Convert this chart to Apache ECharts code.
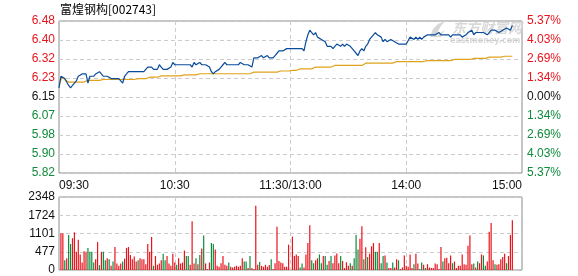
<!DOCTYPE html>
<html><head><meta charset="utf-8">
<script src="https://cdn.jsdelivr.net/npm/echarts@6/dist/echarts.min.js"></script>
<style>html,body{margin:0;padding:0;background:#fff}#c{width:578px;height:276px}</style>
</head><body><div id="c"></div>
<script>
const title = '富煌钢构[002743]';
const priceMin = 5.82, priceMax = 6.48, priceStep = 0.0825;
const priceTicks = ['5.82','5.90','5.98','6.07','6.15','6.23','6.32','6.40','6.48'];
const pctTicks = ['5.37%','4.03%','2.69%','1.34%','0.00%','1.34%','2.69%','4.03%','5.37%'];
const volMax = 2348;
const volTicks = ['0','477','1101','1724','2348'];
const timeTickIdx = [0, 60, 120, 180, 240];
const timeTickText = ['09:30', '10:30', '11:30/13:00', '14:00', '15:00'];

const price = [
6.19,6.24,6.24,6.23,6.23,6.20,6.19,6.20,6.21,6.22,
6.24,6.24,6.25,6.25,6.25,6.21,6.24,6.24,6.24,6.25,
6.25,6.26,6.26,6.24,6.24,6.24,6.24,6.23,6.23,6.23,
6.23,6.23,6.22,6.21,6.24,6.25,6.26,6.26,6.26,6.26,
6.26,6.26,6.26,6.26,6.26,6.27,6.28,6.28,6.28,6.27,
6.27,6.27,6.29,6.28,6.27,6.27,6.27,6.27,6.28,6.30,
6.29,6.29,6.29,6.29,6.29,6.29,6.29,6.29,6.29,6.28,
6.30,6.29,6.29,6.30,6.29,6.29,6.29,6.29,6.28,6.26,
6.25,6.26,6.26,6.27,6.28,6.29,6.30,6.29,6.29,6.29,
6.29,6.29,6.29,6.29,6.30,6.30,6.29,6.29,6.29,6.29,
6.28,6.32,6.32,6.32,6.32,6.33,6.32,6.32,6.33,6.32,
6.32,6.32,6.33,6.34,6.35,6.35,6.35,6.35,6.36,6.36,
6.36,6.36,6.36,6.36,6.36,6.36,6.36,6.35,6.39,6.42,
6.44,6.43,6.42,6.43,6.41,6.41,6.40,6.40,6.39,6.37,
6.37,6.37,6.36,6.37,6.38,6.38,6.37,6.38,6.37,6.38,
6.38,6.37,6.36,6.35,6.34,6.33,6.35,6.36,6.35,6.37,
6.38,6.40,6.41,6.42,6.43,6.42,6.42,6.41,6.39,6.40,
6.39,6.39,6.40,6.40,6.39,6.39,6.38,6.38,6.38,6.38,
6.38,6.38,6.41,6.41,6.40,6.41,6.40,6.41,6.40,6.41,
6.41,6.42,6.42,6.42,6.42,6.42,6.42,6.43,6.42,6.42,
6.42,6.42,6.42,6.41,6.42,6.42,6.42,6.42,6.42,6.41,
6.41,6.42,6.43,6.43,6.44,6.42,6.43,6.43,6.43,6.43,
6.43,6.43,6.42,6.43,6.44,6.44,6.44,6.44,6.43,6.43,
6.44,6.44,6.45,6.45,6.44,6.46
];

const avgPrice = [
6.200,6.225,6.236,6.225,6.218,6.215,6.215,6.215,6.215,6.215,
6.215,6.215,6.215,6.215,6.218,6.222,6.222,6.222,6.222,6.222,
6.222,6.222,6.222,6.226,6.226,6.226,6.226,6.226,6.226,6.226,
6.226,6.226,6.226,6.226,6.226,6.226,6.226,6.226,6.226,6.226,
6.226,6.230,6.230,6.230,6.230,6.230,6.236,6.236,6.236,6.236,
6.236,6.236,6.236,6.242,6.242,6.242,6.242,6.242,6.242,6.242,
6.242,6.242,6.242,6.242,6.242,6.246,6.246,6.246,6.246,6.246,
6.246,6.246,6.246,6.251,6.251,6.251,6.251,6.251,6.251,6.251,
6.251,6.251,6.251,6.251,6.251,6.251,6.251,6.251,6.251,6.251,
6.251,6.251,6.251,6.251,6.251,6.251,6.251,6.251,6.251,6.251,
6.251,6.258,6.258,6.258,6.258,6.258,6.258,6.258,6.258,6.258,
6.258,6.258,6.258,6.258,6.263,6.263,6.263,6.263,6.263,6.263,
6.266,6.266,6.266,6.266,6.266,6.272,6.272,6.272,6.272,6.272,
6.272,6.272,6.280,6.280,6.280,6.280,6.280,6.280,6.280,6.280,
6.280,6.280,6.280,6.287,6.287,6.287,6.287,6.287,6.287,6.287,
6.287,6.287,6.287,6.287,6.287,6.287,6.287,6.287,6.287,6.297,
6.297,6.297,6.297,6.297,6.297,6.297,6.297,6.297,6.297,6.297,
6.297,6.297,6.297,6.297,6.297,6.304,6.304,6.304,6.304,6.304,
6.304,6.304,6.304,6.304,6.304,6.304,6.304,6.304,6.304,6.304,
6.304,6.308,6.308,6.308,6.308,6.308,6.308,6.308,6.308,6.308,
6.308,6.308,6.308,6.308,6.308,6.313,6.313,6.313,6.313,6.313,
6.313,6.313,6.313,6.313,6.318,6.318,6.318,6.318,6.318,6.318,
6.318,6.318,6.318,6.323,6.323,6.323,6.323,6.323,6.323,6.323,
6.323,6.327,6.327,6.327,6.327,6.327
];

const volume = ['-',
1180,1180,313,376,1127,835,1023,1211,585,971,
501,240,605,585,710,585,585,240,344,898,
157,585,585,313,376,344,136,271,741,209,
136,209,271,365,710,741,480,344,438,271,
313,376,344,344,188,835,585,1065,136,449,
167,209,313,522,313,449,209,136,522,240,
167,376,209,240,626,449,449,167,1566,209,
376,188,480,689,1107,209,31,240,867,835,
658,136,104,219,449,167,136,240,104,84,
104,136,104,136,376,271,271,63,449,63,
31,2067,167,261,136,104,167,104,157,344,
31,219,1389,292,240,219,104,104,814,
'-',
1075,449,501,449,84,209,84,501,867,1441,
313,219,313,376,501,219,449,449,167,292,
449,219,470,532,219,449,292,63,250,136,
219,136,376,1127,658,1002,1409,344,731,418,
522,762,867,585,585,867,219,449,470,240,
63,63,240,84,344,313,31,84,470,136,
104,501,63,188,522,209,31,240,167,63,
188,84,63,63,209,188,31,741,271,376,
397,219,470,219,271,63,136,136,501,188,
167,783,1107,188,209,84,271,219,501,470,
136,271,1232,1514,313,188,167,188,344,418,
522,219,449,1127,1597
];

// 1 = up (red), -1 = down (green)
const volDir = [0,
1,1,-1,1,-1,-1,1,1,1,1,
1,1,1,1,-1,-1,-1,-1,1,1,
-1,1,-1,-1,1,-1,1,-1,1,1,
1,1,-1,1,1,1,1,1,1,1,
-1,1,1,1,1,1,1,1,-1,1,
1,1,1,-1,-1,1,1,1,1,1,
-1,1,1,1,1,-1,-1,1,1,1,
-1,1,-1,1,-1,1,1,1,-1,-1,
1,1,1,1,1,1,1,-1,1,1,
1,1,1,1,1,-1,-1,1,-1,1,
1,1,1,-1,1,1,1,1,1,-1,
1,1,1,1,1,1,1,1,1,
0,
1,1,1,1,-1,-1,1,1,1,1,
-1,-1,1,1,-1,-1,1,-1,-1,1,
-1,1,1,1,1,-1,1,1,1,1,
-1,1,-1,-1,-1,1,1,-1,1,-1,
1,1,1,-1,-1,1,-1,-1,1,-1,
1,1,-1,1,1,-1,1,1,1,1,
1,1,1,-1,1,1,-1,-1,1,-1,
1,1,1,1,1,1,1,1,-1,1,
1,1,1,-1,1,1,1,1,1,1,
1,1,1,1,-1,1,-1,1,1,-1,
-1,1,1,1,1,-1,1,1,1,1,
1,-1,1,1,1
];

// minute categories 09:30..11:30, 13:01..15:00
const cats = [];
function pad(n){return (n<10?'0':'')+n;}
for (let m = 9*60+30; m <= 11*60+30; m++) cats.push(pad(Math.floor(m/60))+':'+pad(m%60));
for (let m = 13*60+1; m <= 15*60; m++) cats.push(pad(Math.floor(m/60))+':'+pad(m%60));

const RED = '#e8141c', GREEN = '#108a3c', GRID = '#cccccc', FRAME = '#8c8c8c';
const FONT = '"Liberation Sans", Arial, sans-serif';

const dashed = {color: GRID, type: [4, 3], width: 1};
const isTick = i => timeTickIdx.indexOf(i) >= 0;
const isInner = i => isTick(i) && i !== 0 && i !== 240;

const chart = echarts.init(document.getElementById('c'), null, {renderer: 'canvas'});
chart.setOption({
  animation: false,
  backgroundColor: '#fff',
  textStyle: {fontFamily: FONT},
  graphic: [
    {type: 'text', left: 60, top: 3, z: 10,
     style: {text: title, font: '12px "Noto Sans CJK SC", sans-serif', fill: '#000'}},
    {type: 'polygon', z: 0, silent: true,
     shape: {points: [[430,37],[433,29],[438,24],[445,21],[441,26],[438,31],[437,37]]},
     style: {fill: '#d6d6d6'}},
    {type: 'polygon', z: 0, silent: true,
     shape: {points: [[437,37],[440,33],[445,30],[442,34],[441,37]]},
     style: {fill: '#d6d6d6'}},
    {type: 'text', left: 452, top: 21, z: 0, silent: true,
     style: {text: '东方财富网', font: 'bold italic 14px "Noto Sans CJK SC", sans-serif', fill: '#d8d8d8'}},
    {type: 'text', left: 450, top: 37, z: 0, silent: true,
     style: {text: 'eastmoney.com', font: 'bold 8px "DejaVu Sans", sans-serif', fill: '#d8d8d8'}}
  ],
  grid: [
    {left: 59, right: 56, top: 21, height: 152, show: true, borderColor: FRAME, borderWidth: 1, backgroundColor: 'transparent'},
    {left: 59, right: 56, top: 197, height: 74, show: true, borderColor: FRAME, borderWidth: 1, backgroundColor: 'transparent'}
  ],
  xAxis: [
    {type: 'category', gridIndex: 0, data: cats, boundaryGap: false,
     axisLine: {show: false}, axisTick: {show: false},
     axisLabel: {
       interval: (i) => isTick(i), showMaxLabel: true, showMinLabel: true,
       alignMinLabel: 'left', alignMaxLabel: 'right',
       formatter: (v, i) => timeTickText[timeTickIdx.indexOf(i)] || '',
       color: '#111', fontSize: 12, fontFamily: FONT, margin: 7},
     splitLine: {show: true, interval: (i) => isInner(i), lineStyle: dashed}},
    {type: 'category', gridIndex: 1, data: cats, boundaryGap: false,
     axisLine: {show: false}, axisTick: {show: false}, axisLabel: {show: false},
     splitLine: {show: true, interval: (i) => isInner(i), lineStyle: dashed}}
  ],
  yAxis: [
    {type: 'value', gridIndex: 0, min: priceMin, max: priceMax, interval: priceStep, position: 'left',
     axisLine: {show: false}, axisTick: {show: false},
     axisLabel: {fontSize: 12, fontFamily: FONT, margin: 4,
       formatter: v => priceTicks[Math.round((v - priceMin) / priceStep)],
       color: (v) => { const k = Math.round((v - priceMin) / priceStep); return k > 4 ? RED : (k < 4 ? GREEN : '#111'); }},
     splitLine: {show: true, lineStyle: dashed}},
    {type: 'value', gridIndex: 0, min: priceMin, max: priceMax, interval: priceStep, position: 'right',
     axisLine: {show: false}, axisTick: {show: false},
     axisLabel: {fontSize: 12, fontFamily: FONT, margin: 5,
       formatter: v => pctTicks[Math.round((v - priceMin) / priceStep)],
       color: (v) => { const k = Math.round((v - priceMin) / priceStep); return k > 4 ? RED : (k < 4 ? GREEN : '#111'); }},
     splitLine: {show: false}},
    {type: 'value', gridIndex: 1, min: 0, max: volMax, interval: volMax / 4, position: 'left',
     axisLine: {show: false}, axisTick: {show: false},
     axisLabel: {fontSize: 12, fontFamily: FONT, margin: 4, color: '#111',
       formatter: v => volTicks[Math.round(v / (volMax / 4))]},
     splitLine: {show: true, lineStyle: dashed}}
  ],
  series: [
    {type: 'line', xAxisIndex: 0, yAxisIndex: 0, data: avgPrice, symbol: 'none',
     lineStyle: {color: '#e0a21a', width: 1.2}, z: 3},
    {type: 'line', xAxisIndex: 0, yAxisIndex: 0, data: price, symbol: 'none',
     lineStyle: {color: '#0a4c9c', width: 1.2}, z: 4},
    {type: 'bar', xAxisIndex: 1, yAxisIndex: 2, data: volume, barWidth: 1.2,
     itemStyle: {color: p => volDir[p.dataIndex] < 0 ? GREEN : RED}}
  ]
});
</script></body></html>
